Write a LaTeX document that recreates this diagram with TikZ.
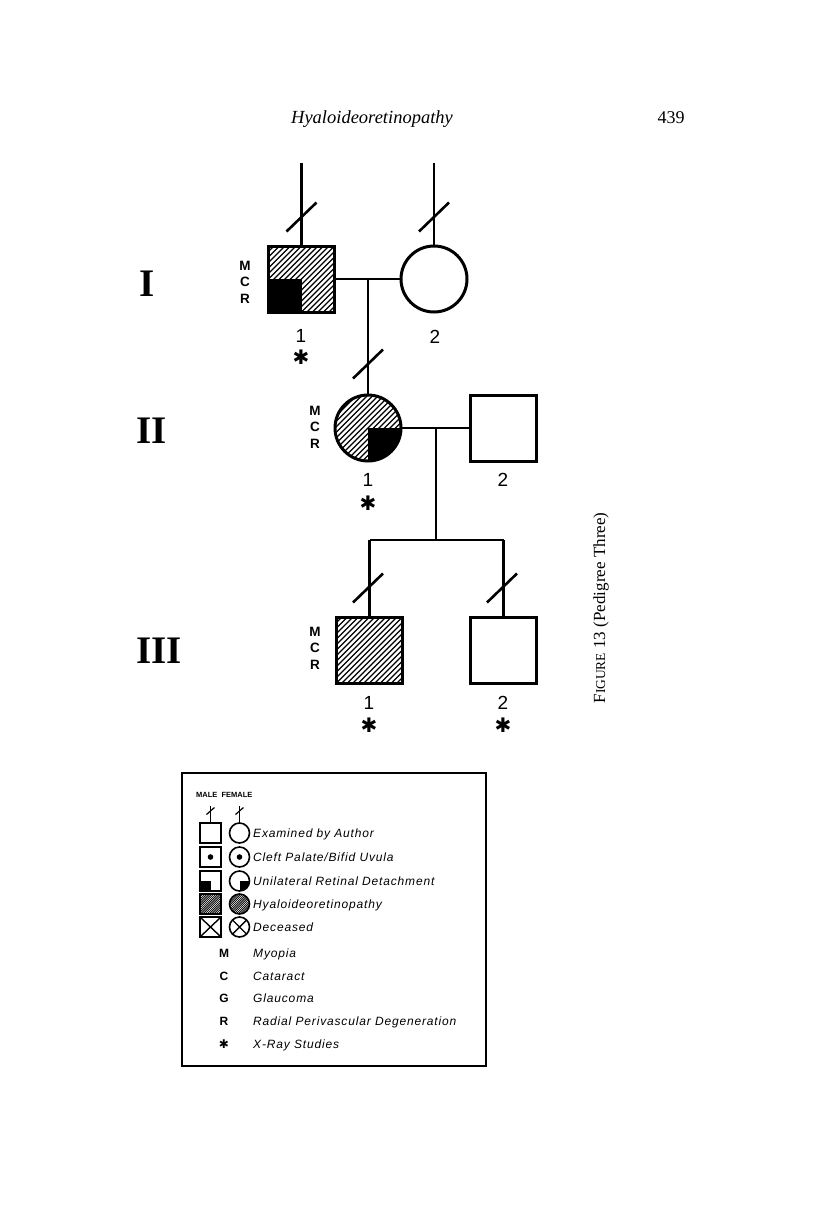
\documentclass[tikz,border=0pt]{standalone}
\usepackage{fontspec}
\setmainfont{Liberation Serif}
\newfontfamily\lsans{Liberation Sans}
\newfontfamily\lsansit[LetterSpace=7]{Liberation Sans Italic}
\newfontfamily\djv{DejaVu Sans}
\usetikzlibrary{calc}
\newcommand\pedhatch[2]{\foreach \k in {-30,...,30}{\draw[line width=#2] ($(path picture bounding box.center)+(\k*#1-45,45)$) -- ++(90,-90);}}
\begin{document}
\begin{tikzpicture}[x=1pt,y=-1pt,
  conn/.style={line width=2.4pt},
  ind/.style={draw,line width=3pt,minimum size=66pt,inner sep=0pt,outer sep=0pt},
  male/.style={ind,rectangle},
  female/.style={ind,circle},
  hatchonly/.style={path picture={\pedhatch{5.5}{1.3pt}}},
  hatchq/.style={path picture={\pedhatch{5.5}{1.3pt}\fill (path picture bounding box.center) rectangle (path picture bounding box.#1);}},
  sl/.pic={\draw[line width=2.6pt] (-15,14.5) -- (15,-14.5);},
  slsmall/.pic={\draw[line width=1.2pt] (-4,3.5) -- (4,-3.5);},
  mcr/.style={align=center,inner sep=0pt,font=\lsans\bfseries\fontsize{13.5}{16.5}\selectfont},
  num/.style={inner sep=0pt,font=\lsans\fontsize{19}{19}\selectfont},
  ast/.style={inner sep=0pt,font=\djv\bfseries\fontsize{20}{20}\selectfont},
  roman/.style={inner sep=0pt,font=\bfseries\fontsize{39}{39}\selectfont},
  lsq/.style={draw,rectangle,line width=1.6pt,minimum width=21pt,minimum height=20pt,inner sep=0pt,outer sep=0pt},
  lci/.style={draw,circle,line width=1.6pt,minimum size=20pt,inner sep=0pt,outer sep=0pt},
  ldot/.style={path picture={\fill (path picture bounding box.center) circle[radius=2.8pt];}},
  lquad/.style={path picture={\fill (path picture bounding box.center) rectangle (path picture bounding box.#1);}},
  lhatch/.style={path picture={\pedhatch{2.2}{0.8pt}}},
  lcross/.style={path picture={\draw[line width=1.4pt] (path picture bounding box.north west) -- (path picture bounding box.south east) (path picture bounding box.north east) -- (path picture bounding box.south west);}},
  ltext/.style={anchor=base west,inner sep=0pt,font=\lsansit\fontsize{12}{13}\selectfont},
  lletter/.style={anchor=base,inner sep=0pt,font=\lsans\bfseries\fontsize{12}{13}\selectfont},
]
\useasboundingbox (0,0) rectangle (816,1229);

% header
\node[anchor=base,inner sep=0pt,font=\itshape\fontsize{18.5}{20}\selectfont] (head) at (372,123) {Hyaloideoretinopathy};
\node[anchor=base,inner sep=0pt,font=\fontsize{18}{20}\selectfont] (page) at (671,123) {439};

% generation labels
\node[roman] (gI) at (147,284) {I};
\node[roman] (gII) at (152,431) {II};
\node[roman] (gIII) at (159,651) {III};

% generation I
\node[male,hatchq=south west] (I1) at (301.5,279) {};
\node[female] (I2) at (434,279) {};
\coordinate (I1top) at (301.5,163);
\coordinate (I2top) at (434,163);
\draw[conn] (I1top) -- (I1.north);
\draw[conn] (I2top) -- (I2.north);
\pic at (301.5,217) {sl};
\pic at (434,217) {sl};
\draw[conn] (I1.east) -- (I2.west);
\coordinate (m1) at (368,279);
\node[mcr] (I1mcr) at (245,282) {M\\C\\R};
\node[num] (I1n) at (301,336) {1};
\node[ast] (I1a) at (301,357) {✱};
\node[num] (I2n) at (435,337) {2};

% generation II
\node[female,hatchq=south east] (II1) at (368,428) {};
\node[male] (II2) at (503.5,428) {};
\draw[conn] (m1) -- (II1.north);
\pic at (368,364) {sl};
\draw[conn] (II1.east) -- (II2.west);
\coordinate (m2) at (436,428);
\coordinate (sib) at (436,540);
\draw[conn] (m2) -- (sib);
\node[mcr] (II1mcr) at (315,427) {M\\C\\R};
\node[num] (II1n) at (368,480) {1};
\node[ast] (II1a) at (368,503) {✱};
\node[num] (II2n) at (503,480) {2};

% generation III
\node[male,hatchonly] (III1) at (369.5,650) {};
\node[male] (III2) at (503.5,650) {};
\coordinate (s1) at (369.5,540);
\coordinate (s2) at (503.5,540);
\draw[conn] (s1) -- (s2);
\draw[conn] (s1) -- (III1.north);
\draw[conn] (s2) -- (III2.north);
\pic at (368,588) {sl};
\pic at (502,588) {sl};
\node[mcr] (III1mcr) at (315,648) {M\\C\\R};
\node[num] (III1n) at (369,703) {1};
\node[ast] (III1a) at (369,725) {✱};
\node[num] (III2n) at (503,703) {2};
\node[ast] (III2a) at (503,725) {✱};

% side caption
\node[rotate=90,inner sep=0pt,font=\fontsize{17}{17}\selectfont] (cap) at (601,608) {F{\fontsize{13.5}{13.5}\selectfont IGURE} 13 (Pedigree Three)};

% legend
\draw[line width=1.4pt] (182,773) rectangle (486,1066);
\node[anchor=base west,inner sep=0pt,font=\lsans\bfseries\fontsize{7.5}{8}\selectfont] (mf) at (196,797) {MALE\ \ FEMALE};
\node[lsq] (L1m) at (210.5,833) {};
\node[lci] (L1f) at (239.5,833) {};
\coordinate (L1mt) at (210.5,806);
\coordinate (L1ft) at (239.5,806);
\draw[line width=1.2pt] (L1mt) -- (L1m.north);
\draw[line width=1.2pt] (L1ft) -- (L1f.north);
\pic at (210.5,811) {slsmall};
\pic at (239.5,811) {slsmall};
\node[ltext] (L1t) at (253,837.5) {Examined by Author};

\node[lsq,ldot] (L2m) at (210.5,857) {};
\node[lci,ldot] (L2f) at (239.5,857) {};
\node[ltext] (L2t) at (253,861.5) {Cleft Palate/Bifid Uvula};

\node[lsq,lquad=south west] (L3m) at (210.5,881) {};
\node[lci,lquad=south east] (L3f) at (239.5,881) {};
\node[ltext] (L3t) at (253,885.5) {Unilateral Retinal Detachment};

\node[lsq,lhatch] (L4m) at (210.5,904) {};
\node[lci,lhatch] (L4f) at (239.5,904) {};
\node[ltext] (L4t) at (253,908.5) {Hyaloideoretinopathy};

\node[lsq,lcross] (L5m) at (210.5,927) {};
\node[lci,lcross] (L5f) at (239.5,927) {};
\node[ltext] (L5t) at (253,931.5) {Deceased};

\node[lletter] (LM) at (224,957.5) {M};
\node[ltext] (LMt) at (253,957.5) {Myopia};
\node[lletter] (LC) at (224,980.5) {C};
\node[ltext] (LCt) at (253,980.5) {Cataract};
\node[lletter] (LG) at (224,1002.5) {G};
\node[ltext] (LGt) at (253,1002.5) {Glaucoma};
\node[lletter] (LR) at (224,1025.5) {R};
\node[ltext] (LRt) at (253,1025.5) {Radial Perivascular Degeneration};
\node[inner sep=0pt,font=\djv\bfseries\fontsize{12}{12}\selectfont] (LA) at (224,1044) {✱};
\node[ltext] (LAt) at (253,1048.5) {X-Ray Studies};
\end{tikzpicture}
\end{document}
